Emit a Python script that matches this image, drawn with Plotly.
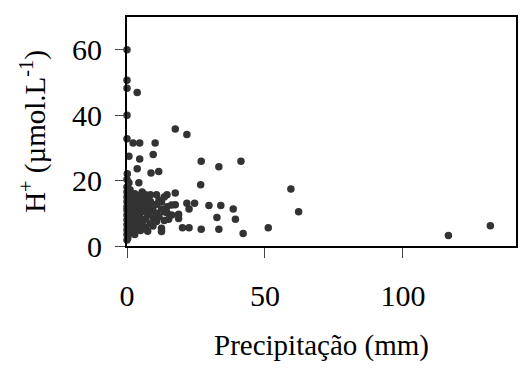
import plotly.graph_objects as go

# Sparse / outlying points (precipitation mm, H+ umol/L)
x_sparse = [0, 0, 0, 3.7, 0, 17.5, 21.7, 0, 2.2, 4.6, 10.2, 0.7, 4.6, 9.5,
            26.9, 33.3, 41.3, 3.7, 0.1, 8.7, 11.5, 0, 0.7, 4.3, 1.1, 26.7,
            14.5, 17.5, 17.5, 21.7, 24.5, 22.5, 29.7, 34.0, 38.5, 32.6, 39.3,
            18.7, 18.7, 20.1, 22.5, 26.9, 33.3, 42.1, 51.2, 59.4, 62.2, 116.5, 131.7,
            15.1, 12.5, 12.5, 9.4, 4.9]
y_sparse = [60, 50.7, 48.2, 46.9, 40, 35.8, 34.1, 32.8, 31.5, 31.5, 31.5, 27.4, 26.6, 28.0,
            25.9, 24.2, 25.9, 23.6, 22.1, 22.3, 22.8, 20.3, 19.3, 19.3, 17.2, 18.7,
            15.7, 16.2, 12.6, 13.1, 13.1, 11.3, 12.4, 12.4, 11.3, 8.7, 8.2,
            9.7, 8.4, 5.6, 5.6, 5.1, 5.1, 3.8, 5.6, 17.4, 10.5, 3.2, 6.2,
            8.2, 4.4, 5.4, 6.1, 4.7]

# Dense cluster near zero precipitation
x_dense = [0, 0, 0, 0, 0, 0, 0, 0, 0, 0, 0, 0,
           0.3, 0.3, 0.3, 0.3,
           1, 1, 1, 1, 1, 1,
           1.9, 1.9, 1.9, 1.9, 1.9, 1.9,
           2.8, 2.8, 2.8, 2.8, 2.8, 2.8,
           3.7, 3.7, 3.7, 3.7, 3.7, 3.7,
           4.6, 4.6, 4.6, 4.6, 4.6,
           5.5, 5.5, 5.5, 5.5, 5.5,
           6.7, 6.7, 6.7, 6.7, 6.7,
           7.5, 7.5, 7.5, 7.5,
           8.5, 8.5, 8.5, 8.5,
           9.4, 9.4,
           10.7, 10.7, 10.7, 10.7,
           11.6, 11.6,
           12.5, 12.5,
           13.5, 13.5, 13.5,
           14.5, 14.5,
           16.2, 16.2]
y_dense = [1.8, 3.5, 5, 6.5, 8, 9.5, 11, 12, 13.5, 15, 16.5, 18,
           2.5, 7, 10, 14,
           4, 6, 8.5, 11.5, 13, 15.5,
           5.5, 7.5, 9.5, 12.5, 14.5, 15.7,
           3.5, 6.8, 8.8, 11, 13.2, 16,
           5, 7.8, 10.2, 12, 14.2, 15.5,
           6.3, 9, 11.3, 13.5, 15,
           7.3, 10.5, 12.7, 14.5, 16.5,
           5.8, 8.2, 11, 13, 15.7,
           4.5, 9.6, 12, 14,
           6.8, 10.8, 13.6, 15.7,
           8.6, 11.8,
           7.5, 10, 12.8, 15.7,
           9, 14,
           11.3, 13.5,
           7.8, 10.5, 15,
           12, 10.2,
           12.5, 9.5]

x_ticks = [0, 50, 100]
y_ticks = [0, 20, 40, 60]

fig = go.Figure()
fig.add_trace(go.Scatter(
    x=x_sparse + x_dense, y=y_sparse + y_dense, mode="markers",
    marker=dict(size=7.5, color="#333333", line=dict(width=0)),
    cliponaxis=False, showlegend=False))

family = "Liberation Serif, Times New Roman, serif"
tick_font = dict(family=family, size=30, color="black")
title_font = dict(family=family, size=29, color="black")

fig.update_layout(
    width=520, height=376,
    margin=dict(l=127, r=2, t=17, b=130),
    paper_bgcolor="white", plot_bgcolor="white",
    font=title_font,
    xaxis=dict(range=[0, 141], tickvals=x_ticks, ticks="outside", ticklen=10,
               tickwidth=1, tickcolor="#444", showline=True, mirror=True,
               linewidth=2, linecolor="black", showgrid=False, zeroline=False,
               ticklabelstandoff=12, tickfont=tick_font,
               title=dict(text="Precipitação (mm)", standoff=24, font=title_font)),
    yaxis=dict(range=[0, 70], tickvals=y_ticks, ticks="outside", ticklen=10,
               tickwidth=1, tickcolor="#444", showline=True, mirror=True,
               linewidth=2, linecolor="black", showgrid=False, zeroline=False,
               ticklabelstandoff=7, tickfont=tick_font,
               title=dict(text="H<sup>+</sup> (µmol.L<sup>-1</sup>)", standoff=18, font=title_font)),
)

fig.write_html("out.html")
